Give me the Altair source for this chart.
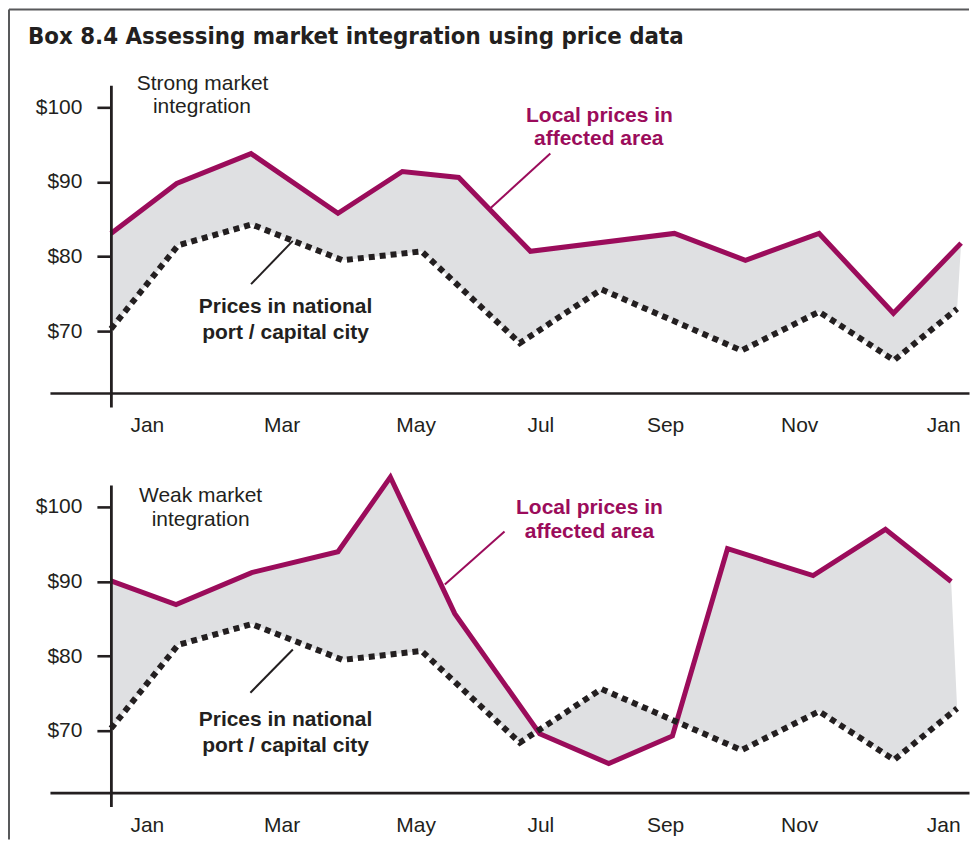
import json
import altair as alt
import pandas as pd

# ---------------- data ----------------
TITLE = "Box 8.4 Assessing market integration using price data"

month_labels = ["Jan", "Mar", "May", "Jul", "Sep", "Nov", "Jan"]
month_label_pos = [1.0, 3.03, 5.05, 6.93, 8.81, 10.83, 13.0]
price_ticks = [70, 80, 90, 100]

# prices in national port / capital city (same series in both panels)
national_month = [0.46, 1.47, 2.58, 3.95, 5.14, 6.62, 7.85, 9.96, 11.13, 12.26, 13.21]
national_price = [70.3, 81.5, 84.3, 79.5, 80.7, 68.4, 75.6, 67.4, 72.6, 66.1, 73.0]

# local prices, strong market integration
strong_local_month = [0.46, 1.45, 2.57, 3.88, 4.85, 5.70, 6.78, 8.95, 10.02, 11.13, 12.25, 13.27]
strong_local_price = [83.1, 89.8, 93.8, 85.8, 91.4, 90.6, 80.7, 83.1, 79.5, 83.1, 72.4, 81.8]

# local prices, weak market integration
weak_local_month = [0.46, 1.44, 2.58, 3.88, 4.67, 5.64, 6.92, 7.96, 8.92, 9.75, 11.04, 12.13, 13.12]
weak_local_price = [90.1, 86.9, 91.2, 94.0, 104.0, 85.7, 69.6, 65.6, 69.3, 94.4, 90.8, 97.0, 90.0]

panel_titles = {
    "strong": ["Strong market", "integration"],
    "weak": ["Weak market", "integration"],
}
local_label = ["Local prices in", "affected area"]
national_label = ["Prices in national", "port / capital city"]

# annotation anchors (data coordinates: month, price)
ann = {
    "strong": {
        "title": [(1.84, 103.1), (1.83, 100.0)],
        "local": [(7.82, 98.9), (7.81, 95.8)],
        "local_leader": (7.08, 93.8, 6.16, 86.35),
        "national": [(3.09, 73.2), (3.09, 69.8)],
        "national_leader": (2.57, 76.3, 3.20, 82.1),
    },
    "weak": {
        "title": [(1.81, 101.4), (1.81, 98.2)],
        "local": [(7.67, 99.9), (7.67, 96.7)],
        "local_leader": (6.39, 96.7, 5.49, 89.6),
        "national": [(3.09, 71.4), (3.09, 68.0)],
        "national_leader": (2.56, 75.1, 3.20, 80.9),
    },
}

# ---------------- style ----------------
MAGENTA = "#9b0c5b"
INK = "#231f20"
GREY = "#dfe0e2"
FRAME = "#58595b"
FONT = "Liberation Sans"
TITLE_FONT = "'DejaVu Sans Condensed', 'Liberation Sans Narrow', 'Roboto Condensed', 'Arial Narrow', sans-serif"
W, H = 920, 322
X_DOMAIN = [-0.46, 13.389]
Y_DOMAIN = [59.83, 102.95]

label_expr = f"{json.dumps(month_labels)}[indexof({json.dumps(month_label_pos)}, datum.value)]"

x_enc = alt.X(
    "month:Q",
    scale=alt.Scale(domain=X_DOMAIN, nice=False, zero=False),
    axis=alt.Axis(
        values=month_label_pos, labelExpr=label_expr, ticks=False, tickSize=0,
        domain=True, domainColor=INK, domainWidth=2.6, grid=False,
        labelFont=FONT, labelFontSize=21, labelColor=INK, labelPadding=22,
        labelFlush=False, labelOverlap=False, offset=-14, zindex=1, title=None,
    ),
)
y_enc = alt.Y(
    "price:Q",
    scale=alt.Scale(domain=Y_DOMAIN, nice=False, zero=False),
    axis=alt.Axis(
        values=price_ticks, labelExpr="'$' + datum.value", tickSize=14,
        tickWidth=2.6, tickColor=INK, domain=True, domainColor=INK,
        domainWidth=2.8, grid=False, labelFont=FONT, labelFontSize=21,
        labelColor=INK, labelPadding=15, offset=-61, zindex=1, title=None,
    ),
)


def text_rows(lines, anchors):
    return pd.DataFrame({
        "month": [a[0] for a in anchors],
        "price": [a[1] for a in anchors],
        "label": lines,
    })


def panel(key, local_m, local_p, with_frame):
    national = pd.DataFrame({"month": national_month, "price": national_price})
    local = pd.DataFrame({"month": local_m, "price": local_p})
    n = len(national)
    poly = pd.concat([
        national.assign(ord=list(range(n))),
        local.iloc[::-1].reset_index(drop=True).assign(ord=list(range(n, n + len(local)))),
    ])

    band = alt.Chart(poly).mark_line(filled=True, color=GREY, strokeWidth=0).encode(
        x=x_enc, y=y_enc, order=alt.Order("ord:Q")
    )
    local_line = alt.Chart(local).mark_line(
        color=MAGENTA, strokeWidth=5, strokeJoin="miter"
    ).encode(x=x_enc, y=y_enc)
    national_line = alt.Chart(national).mark_line(
        color=INK, strokeWidth=6, strokeDash=[6, 5], strokeCap="butt", strokeJoin="miter"
    ).encode(x=x_enc, y=y_enc)

    a = ann[key]
    ll = a["local_leader"]
    nl = a["national_leader"]
    leaders = pd.DataFrame({
        "month": [ll[0], nl[0]], "price": [ll[1], nl[1]],
        "month2": [ll[2], nl[2]], "price2": [ll[3], nl[3]],
        "kind": ["local", "national"],
    })
    leader_rules = alt.Chart(leaders).mark_rule(strokeWidth=2).encode(
        x=x_enc, y=y_enc, x2="month2:Q", y2="price2:Q",
        color=alt.Color("kind:N", scale=alt.Scale(domain=["local", "national"], range=[MAGENTA, INK]), legend=None),
    )

    title_txt = alt.Chart(text_rows(panel_titles[key], a["title"])).mark_text(
        font=FONT, fontSize=21, color=INK, align="center", baseline="middle"
    ).encode(x=x_enc, y=y_enc, text="label:N")
    local_txt = alt.Chart(text_rows(local_label, a["local"])).mark_text(
        font=FONT, fontSize=21, fontWeight="bold", color=MAGENTA, align="center", baseline="middle"
    ).encode(x=x_enc, y=y_enc, text="label:N")
    nat_txt = alt.Chart(text_rows(national_label, a["national"])).mark_text(
        font=FONT, fontSize=21, fontWeight="bold", color=INK, align="center", baseline="middle"
    ).encode(x=x_enc, y=y_enc, text="label:N")

    layers = [band, local_line, national_line, leader_rules, title_txt, local_txt, nat_txt]

    if with_frame:
        one = alt.Data(values=[{}])
        frame_left = alt.Chart(one).mark_rule(color=FRAME, strokeWidth=2).encode(
            x=alt.value(-41), y=alt.value(-76), y2=alt.value(755)
        )
        frame_top = alt.Chart(one).mark_rule(color=FRAME, strokeWidth=2).encode(
            x=alt.value(-41), x2=alt.value(W), y=alt.value(-76)
        )
        title = alt.Chart(one).mark_text(
            text=TITLE, font=TITLE_FONT, fontSize=23.8, fontWeight="bold", color=INK,
            align="left", baseline="alphabetic"
        ).encode(x=alt.value(-22), y=alt.value(-41))
        layers = [frame_left, frame_top, title] + layers

    return alt.layer(*layers).properties(width=W, height=H)


top = panel("strong", strong_local_month, strong_local_price, True)
bottom = panel("weak", weak_local_month, weak_local_price, False)

chart = (
    alt.vconcat(top, bottom, spacing=78, bounds="flush")
    .properties(padding=0)
    .configure_view(strokeWidth=0)
)

chart.save("out.html", embed_options={"renderer": "svg", "actions": False})
